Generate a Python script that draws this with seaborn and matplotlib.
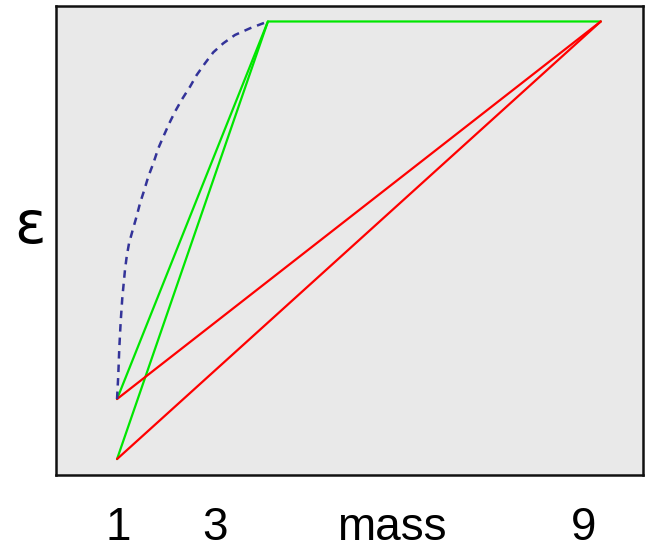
import matplotlib
matplotlib.use("Agg")
import matplotlib.pyplot as plt
import seaborn as sns
import pandas as pd

# Key states on the mass axis (abstract units) and their epsilon values
mass_low = 1.04
mass_peak = 3.61
mass_far = 9.28
eps_upper = 1.62
eps_lower = 0.34
eps_top = 9.67

# Dashed curve rising from the upper low state to the peak
curve_mass = [1.04, 1.061, 1.078, 1.102, 1.129, 1.175, 1.204, 1.244, 1.307,
              1.375, 1.431, 1.504, 1.572, 1.658, 1.743, 1.828, 1.930, 2.027,
              2.141, 2.283, 2.397, 2.538, 2.680, 2.850, 3.049, 3.305, 3.61]
curve_eps = [1.62, 2.132, 2.701, 3.269, 3.768, 4.371, 4.655, 4.940, 5.224,
             5.522, 5.793, 6.077, 6.360, 6.646, 6.966, 7.213, 7.499, 7.746,
             8.0, 8.279, 8.529, 8.778, 9.013, 9.205, 9.382, 9.525, 9.67]

# Axis labels along the bottom
tick_pos = [1.06, 2.71, 5.72, 8.98]
tick_labels = ["1", "3", "mass", "9"]

green_paths = pd.DataFrame({
    "seg": [0, 0, 0, 1, 1],
    "mass": [mass_low, mass_peak, mass_far, mass_low, mass_peak],
    "eps": [eps_upper, eps_top, eps_top, eps_lower, eps_top],
})
red_paths = pd.DataFrame({
    "seg": [0, 0, 1, 1],
    "mass": [mass_low, mass_far, mass_low, mass_far],
    "eps": [eps_upper, eps_top, eps_lower, eps_top],
})
curve = pd.DataFrame({"mass": curve_mass, "eps": curve_eps})

sns.set_style("white")
plt.rcParams["font.family"] = ["Liberation Sans", "DejaVu Sans"]
plt.rcParams["text.color"] = "black"
plt.rcParams["xtick.color"] = "black"
plt.rcParams["axes.labelcolor"] = "black"

fig = plt.figure(figsize=(6.5, 5.52), dpi=100)
ax = fig.add_axes([56 / 650, 77 / 552, 587 / 650, 469 / 552])
ax.set_facecolor("#e9e9e9")

sns.lineplot(data=green_paths, x="mass", y="eps", units="seg", estimator=None,
             sort=False, color="#00e600", lw=1.6, ax=ax)
sns.lineplot(data=red_paths, x="mass", y="eps", units="seg", estimator=None,
             sort=False, color="#ff0000", lw=1.6, ax=ax)
sns.lineplot(data=curve, x="mass", y="eps", estimator=None, sort=False,
             color="#333399", lw=1.8, linestyle=(0, (3, 2.4)), ax=ax)

ax.set_xlim(0, 10)
ax.set_ylim(0, 10)
ax.set_xticks(tick_pos)
ax.set_xticklabels(tick_labels, fontsize=33, color="black")
ax.tick_params(axis="x", length=0, pad=22)
ax.set_yticks([])
ax.set_xlabel("")
ax.set_ylabel("ε", rotation=0, fontsize=42, color="black",
              family=["DejaVu Sans"], va="center", ha="center")
ax.yaxis.set_label_coords(-0.044, 0.529)

for s in ax.spines.values():
    s.set_visible(True)
    s.set_color("#111111")
    s.set_linewidth(1.8)

fig.savefig("out.png", dpi=100)
